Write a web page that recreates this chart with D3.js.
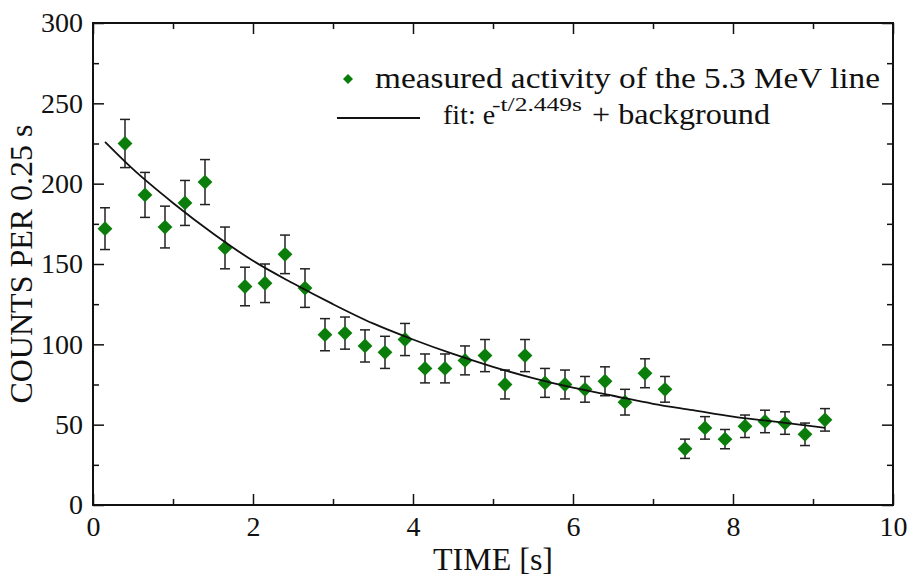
<!DOCTYPE html>
<html>
<head>
<meta charset="utf-8">
<script src="https://cdn.jsdelivr.net/npm/d3@7"></script>
<style>
  body { margin: 0; background: #fff; }
</style>
</head>
<body>
<div id="chart"></div>
<script>
// measured activity (counts per 0.25 s bin)
var times = [0.15, 0.4, 0.65, 0.9, 1.15, 1.4, 1.65, 1.9, 2.15, 2.4, 2.65, 2.9, 3.15, 3.4, 3.65, 3.9,
  4.15, 4.4, 4.65, 4.9, 5.15, 5.4, 5.65, 5.9, 6.15, 6.4, 6.65, 6.9, 7.15, 7.4, 7.65, 7.9,
  8.15, 8.4, 8.65, 8.9, 9.15];
var counts = [172, 225, 193, 173, 188, 201, 160, 136, 138, 156, 135, 106, 107, 99, 95, 103,
  85, 85, 90, 93, 75, 93, 76, 75, 72, 77, 64, 82, 72, 35, 48, 41,
  49, 52, 51, 44, 53];
var errors = [13, 15, 14, 13, 14, 14, 13, 12, 12, 12, 12, 10, 10, 10, 10, 10,
  9, 9, 9, 10, 9, 10, 9, 9, 8, 9, 8, 9, 8, 6, 7, 6,
  7, 7, 7, 7, 7];

// fit curve
var fitTimes = [0.15, 0.5, 1, 1.5, 2, 2.5, 3, 3.5, 4, 4.5, 5, 5.5, 6, 6.5, 7, 7.5, 8, 8.5, 9.15];
var fitCounts = [226, 209, 188, 169, 152, 138, 125, 113, 103, 94, 86, 79, 73, 68, 63, 59, 55, 52, 48];

var xMajorTicks = [0, 2, 4, 6, 8, 10];
var xMinorTicks = [1, 3, 5, 7, 9];
var yMajorTicks = [0, 50, 100, 150, 200, 250, 300];
var yMinorTicks = [25, 75, 125, 175, 225, 275];

var attrs = {
  svgWidth: 912,
  svgHeight: 580,
  marginTop: 23,
  marginBottom: 75,
  marginLeft: 93,
  marginRight: 19,
  font: '"Liberation Serif", "Times New Roman", serif',
  green: '#0b7d0b',
  ink: '#111'
};

var calc = {};
calc.width = attrs.svgWidth - attrs.marginLeft - attrs.marginRight;
calc.height = attrs.svgHeight - attrs.marginTop - attrs.marginBottom;

var svg = d3.select('#chart').append('svg')
  .attr('width', attrs.svgWidth)
  .attr('height', attrs.svgHeight)
  .attr('font-family', attrs.font);

var chart = svg.append('g')
  .attr('transform', 'translate(' + attrs.marginLeft + ',' + attrs.marginTop + ')');

var x = d3.scaleLinear().domain([0, 10]).range([0, calc.width]);
var y = d3.scaleLinear().domain([0, 300]).range([calc.height, 0]);

drawAxes();
drawPoints();
drawFit();
drawLegend();

function styleAxis(g) {
  g.attr('font-family', attrs.font).attr('font-size', 28);
  g.select('.domain').remove();
  g.selectAll('.tick line').attr('stroke', attrs.ink).attr('stroke-width', 1.5);
  g.selectAll('.tick text').attr('fill', attrs.ink).style('font-family', attrs.font);
}

function drawAxes() {
  // bottom
  chart.append('g').attr('transform', 'translate(0,' + calc.height + ')')
    .call(d3.axisBottom(x).tickValues(xMajorTicks).tickSize(-11).tickSizeOuter(0).tickPadding(11).tickFormat(d3.format('d')))
    .call(styleAxis);
  chart.append('g').attr('transform', 'translate(0,' + calc.height + ')')
    .call(d3.axisBottom(x).tickValues(xMinorTicks).tickSize(-6).tickSizeOuter(0).tickFormat(''))
    .call(styleAxis);
  // top
  chart.append('g')
    .call(d3.axisTop(x).tickValues(xMajorTicks).tickSize(-11).tickSizeOuter(0).tickFormat(''))
    .call(styleAxis);
  chart.append('g')
    .call(d3.axisTop(x).tickValues(xMinorTicks).tickSize(-6).tickSizeOuter(0).tickFormat(''))
    .call(styleAxis);
  // left
  chart.append('g')
    .call(d3.axisLeft(y).tickValues(yMajorTicks).tickSize(-11).tickSizeOuter(0).tickPadding(10).tickFormat(d3.format('d')))
    .call(styleAxis);
  chart.append('g')
    .call(d3.axisLeft(y).tickValues(yMinorTicks).tickSize(-6).tickSizeOuter(0).tickFormat(''))
    .call(styleAxis);
  // right
  chart.append('g').attr('transform', 'translate(' + calc.width + ',0)')
    .call(d3.axisRight(y).tickValues(yMajorTicks).tickSize(-11).tickSizeOuter(0).tickFormat(''))
    .call(styleAxis);
  chart.append('g').attr('transform', 'translate(' + calc.width + ',0)')
    .call(d3.axisRight(y).tickValues(yMinorTicks).tickSize(-6).tickSizeOuter(0).tickFormat(''))
    .call(styleAxis);

  // frame
  chart.append('rect')
    .attr('width', calc.width)
    .attr('height', calc.height)
    .attr('fill', 'none')
    .attr('stroke', attrs.ink)
    .attr('stroke-width', 2);

  // titles
  svg.append('text')
    .attr('x', attrs.marginLeft + calc.width / 2)
    .attr('y', 570)
    .attr('text-anchor', 'middle')
    .attr('font-size', 32)
    .attr('fill', attrs.ink)
    .text('TIME [s]');

  svg.append('text')
    .attr('transform', 'translate(32,' + (attrs.marginTop + calc.height / 2) + ') rotate(-90)')
    .attr('text-anchor', 'middle')
    .attr('font-size', 32)
    .attr('fill', attrs.ink)
    .text('COUNTS PER 0.25 s');
}

function drawPoints() {
  var data = times.map(function (t, i) { return { t: t, c: counts[i], e: errors[i] }; });

  var bars = chart.selectAll('.err').data(data).enter().append('g')
    .attr('class', 'err')
    .attr('stroke', '#222')
    .attr('stroke-width', 1.5);
  bars.append('line')
    .attr('x1', function (d) { return x(d.t); })
    .attr('x2', function (d) { return x(d.t); })
    .attr('y1', function (d) { return y(d.c - d.e); })
    .attr('y2', function (d) { return y(d.c + d.e); });
  [-1, 1].forEach(function (s) {
    bars.append('line')
      .attr('x1', function (d) { return x(d.t) - 5; })
      .attr('x2', function (d) { return x(d.t) + 5; })
      .attr('y1', function (d) { return y(d.c + s * d.e); })
      .attr('y2', function (d) { return y(d.c + s * d.e); });
  });

  chart.selectAll('.pt').data(data).enter().append('path')
    .attr('class', 'pt')
    .attr('d', d3.symbol(d3.symbolSquare, 110))
    .attr('transform', function (d) { return 'translate(' + x(d.t) + ',' + y(d.c) + ') rotate(45)'; })
    .attr('fill', attrs.green);
}

function drawFit() {
  var line = d3.line()
    .x(function (d, i) { return x(fitTimes[i]); })
    .y(function (d) { return y(d); })
    .curve(d3.curveMonotoneX);
  chart.append('path')
    .datum(fitCounts)
    .attr('d', line)
    .attr('fill', 'none')
    .attr('stroke', attrs.ink)
    .attr('stroke-width', 1.8);
}

function drawLegend() {
  var legend = svg.append('g').attr('fill', attrs.ink).attr('font-size', 30);

  legend.append('path')
    .attr('d', d3.symbol(d3.symbolSquare, 50))
    .attr('transform', 'translate(348,79) rotate(45)')
    .attr('fill', attrs.green);
  legend.append('text')
    .attr('x', 375).attr('y', 88)
    .attr('textLength', 505)
    .attr('lengthAdjust', 'spacingAndGlyphs')
    .text('measured activity of the 5.3 MeV line');

  legend.append('line')
    .attr('x1', 337).attr('x2', 420)
    .attr('y1', 118).attr('y2', 118)
    .attr('stroke', attrs.ink)
    .attr('stroke-width', 1.8);
  legend.append('text')
    .attr('x', 443).attr('y', 124)
    .attr('font-size', 28)
    .text('fit: e');
  legend.append('text')
    .attr('x', 492).attr('y', 111)
    .attr('font-size', 18)
    .attr('textLength', 90)
    .attr('lengthAdjust', 'spacingAndGlyphs')
    .text('-t/2.449s');
  legend.append('text')
    .attr('x', 592).attr('y', 124)
    .attr('textLength', 178)
    .attr('lengthAdjust', 'spacingAndGlyphs')
    .text('+ background');
}
</script>
</body>
</html>
